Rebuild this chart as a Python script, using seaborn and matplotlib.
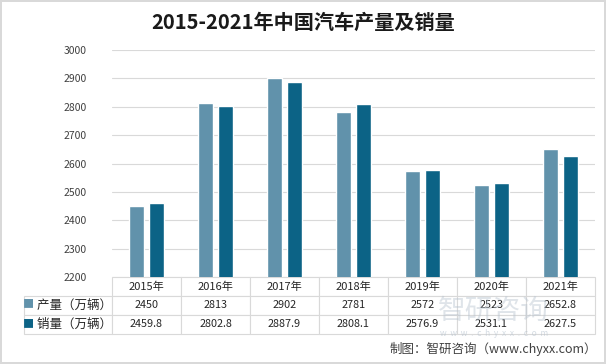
import matplotlib
matplotlib.use("Agg")
import matplotlib.pyplot as plt
import seaborn as sns
import pandas as pd

years = ["2015年", "2016年", "2017年", "2018年", "2019年", "2020年", "2021年"]
production = [2450, 2813, 2902, 2781, 2572, 2523, 2652.8]
sales = [2459.8, 2802.8, 2887.9, 2808.1, 2576.9, 2531.1, 2627.5]
series = ["产量（万辆）", "销量（万辆）"]
prod_labels = ["2450", "2813", "2902", "2781", "2572", "2523", "2652.8"]
sales_labels = ["2459.8", "2802.8", "2887.9", "2808.1", "2576.9", "2531.1", "2627.5"]
colors = ["#6192ab", "#0c6386"]

sns.set_theme(style="white")
plt.rcParams["font.family"] = ["Noto Sans CJK SC", "DejaVu Sans"]

df = pd.DataFrame({
    "year": years * 2,
    "value": production + sales,
    "series": [series[0]] * 7 + [series[1]] * 7,
})

fig = plt.figure(figsize=(6.06, 3.64), dpi=100)
fig.patch.set_edgecolor("#d9d9d9")
fig.patch.set_linewidth(1.5)
ax = fig.add_axes([0.1848, 0.239, 0.797, 0.6236])

sns.barplot(data=df, x="year", y="value", hue="series", palette=colors,
            width=0.58, gap=0.25, ax=ax, legend=False, saturation=1)

ax.set_ylim(2200, 3000)
ax.set_yticks(range(2200, 3001, 100))
ax.set_xlim(-0.5, 6.5)
ax.set_xticks([])
ax.set_xlabel("")
ax.set_ylabel("")
ax.tick_params(axis="y", labelsize=7.5, colors="#404040", length=0, pad=18)
ax.yaxis.grid(True, color="#d9d9d9", linewidth=0.8)
ax.set_axisbelow(True)
for s in ax.spines.values():
    s.set_visible(False)

# data table under the bars (first column holds the series names)
lab_w = 88 / 483
rows = [["    " + series[0]] + prod_labels, ["    " + series[1]] + sales_labels]
tbl = ax.table(cellText=rows, colLabels=[""] + years, cellLoc="center",
               colWidths=[lab_w] + [1 / 7] * 7,
               bbox=[-lab_w, -0.251, 1 + lab_w, 0.251])
tbl.auto_set_font_size(False)
for (r, c), cell in tbl.get_celld().items():
    cell.set_edgecolor("#d9d9d9")
    cell.set_linewidth(0.8)
    txt = cell.get_text()
    txt.set_color("#262626")
    txt.set_fontsize(8 if r == 0 else 7.8)
    if c == 0:
        if r == 0:
            cell.visible_edges = ""
        else:
            txt.set_fontsize(9)
            txt.set_ha("left")
            cell._loc = "left"
            cell.PAD = 0.02

for i, col in enumerate(colors):
    ax.text(-0.172, -0.119 - i * 0.088, "■", color=col, fontsize=8,
            transform=ax.transAxes, ha="center", va="center")

fig.text(0.5, 0.94, "2015-2021年中国汽车产量及销量", ha="center", va="center",
         fontsize=14.5, fontweight="bold", color="#1a1a1a")
fig.text(0.815, 0.145, "智研咨询", ha="center", va="center", fontsize=20,
         color="#b8c4d0", alpha=0.45)
fig.text(0.815, 0.085, "w  w  w  .  c  h  y  x  x  .  c  o  m", ha="center",
         va="center", fontsize=6, color="#b8c4d0", alpha=0.6)
fig.text(0.985, 0.04, "制图：智研咨询（www.chyxx.com）", ha="right", va="center",
         fontsize=9, color="#404040")

fig.savefig("out.png", dpi=100)
